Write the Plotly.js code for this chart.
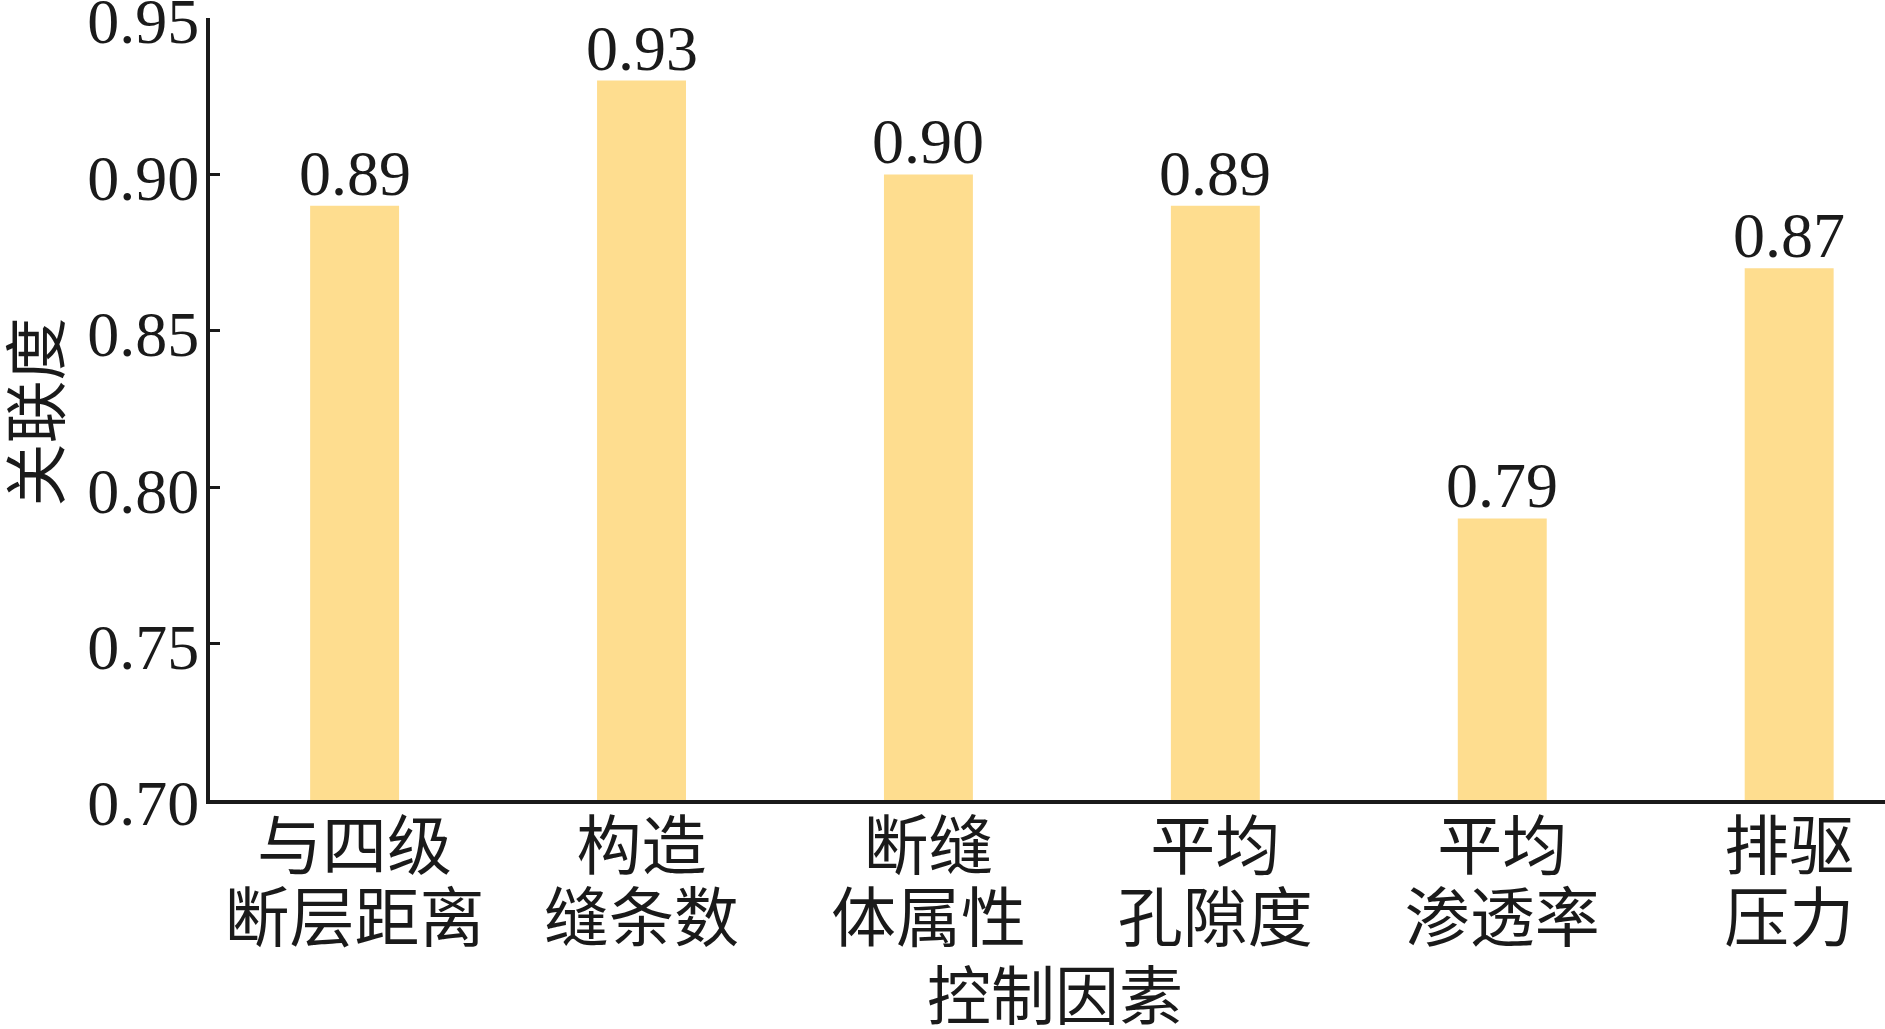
<!DOCTYPE html>
<html>
<head>
<meta charset="utf-8">
<script src="https://cdn.plot.ly/plotly-3.0.1.min.js"></script>
<style>html,body{margin:0;padding:0;background:#fff;}#chart{width:1885px;height:1029px;}</style>
</head>
<body>
<div id="chart"></div>
<script>
const categoryLine1 = ["与四级", "构造", "断缝", "平均", "平均", "排驱"];
const categoryLine2 = ["断层距离", "缝条数", "体属性", "孔隙度", "渗透率", "压力"];
const values = [0.89, 0.93, 0.90, 0.89, 0.79, 0.87];
const valueLabels = ["0.89", "0.93", "0.90", "0.89", "0.79", "0.87"];
const yTicks = [0.70, 0.75, 0.80, 0.85, 0.90, 0.95];
const yTickText = ["0.70", "0.75", "0.80", "0.85", "0.90", "0.95"];
const xTitle = "控制因素";
const yTitle = "关联度";

const FONT = "'Liberation Serif', 'Times New Roman', 'Noto Sans CJK SC', serif";
const CJK = "'Noto Sans CJK SC', sans-serif";
const INK = "#1a1a1a";
const positions = categoryLine1.map((_, i) => i);

const trace = {
  type: "bar",
  x: positions,
  y: values,
  width: 0.31,
  marker: {color: "#FEDD8F", line: {width: 0}},
  hoverinfo: "skip"
};

const valueAnnotations = values.map((v, i) => ({
  x: positions[i], y: v, xref: "x", yref: "y",
  text: valueLabels[i],
  showarrow: false,
  yanchor: "bottom",
  yshift: -5,
  font: {family: FONT, size: 64, color: INK}
}));

const titleAnnotations = [
  {text: xTitle, xref: "paper", yref: "paper", x: 0.5045, y: -0.2440,
   xanchor: "center", yanchor: "middle", showarrow: false,
   font: {family: CJK, size: 64, color: INK}},
  {text: yTitle, xref: "paper", yref: "paper", x: -0.1060, y: 0.4962,
   xanchor: "center", yanchor: "middle", textangle: -90, showarrow: false,
   font: {family: CJK, size: 63, color: INK}}
];

const layout = {
  width: 1885, height: 1029,
  margin: {l: 210, r: 0, t: 18, b: 229, pad: 0},
  paper_bgcolor: "#fff", plot_bgcolor: "#fff",
  showlegend: false,
  font: {family: FONT, color: INK},
  annotations: valueAnnotations.concat(titleAnnotations),
  xaxis: {
    range: [-0.504, 5.334],
    tickmode: "array",
    tickvals: positions,
    ticktext: categoryLine1,
    tickfont: {family: CJK, size: 65, color: INK},
    ticks: "",
    showline: true, linewidth: 4, linecolor: INK,
    showgrid: false, zeroline: false,
    ticklabelstandoff: -13,
    ticklabeloverflow: "allow",
    automargin: false
  },
  xaxis2: {
    overlaying: "x",
    matches: "x",
    anchor: "y",
    side: "bottom",
    range: [-0.504, 5.334],
    tickmode: "array",
    tickvals: positions,
    ticktext: categoryLine2,
    tickfont: {family: CJK, size: 65, color: INK},
    ticks: "",
    showline: false,
    showgrid: false, zeroline: false,
    ticklabelstandoff: 75,
    ticklabeloverflow: "allow",
    automargin: false
  },
  yaxis: {
    range: [0.69999, 0.95001],
    tickmode: "array",
    tickvals: yTicks,
    ticktext: yTickText,
    tickfont: {family: FONT, size: 64, color: INK},
    ticks: "inside", ticklen: 10, tickwidth: 3, tickcolor: INK,
    showline: true, linewidth: 4, linecolor: INK,
    showgrid: false, zeroline: false,
    ticklabelstandoff: -6,
    ticklabelshift: 3,
    ticklabeloverflow: "allow",
    automargin: false
  }
};

const traces = [trace, {type: "bar", x: [], y: [], xaxis: "x2", yaxis: "y", showlegend: false, hoverinfo: "skip"}];

Plotly.newPlot("chart", traces, layout, {staticPlot: true, displayModeBar: false});
</script>
</body>
</html>
